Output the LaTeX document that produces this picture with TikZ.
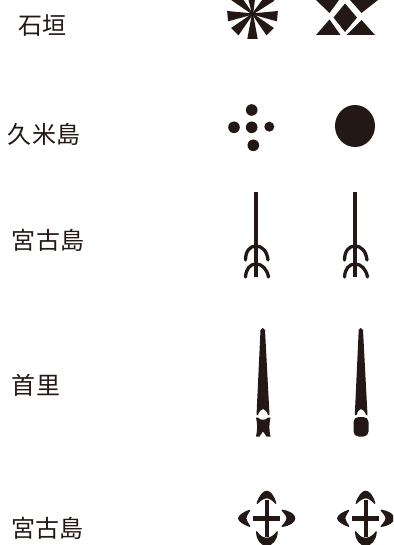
\documentclass[tikz,border=0pt]{standalone}
\usepackage{fontspec}
\newfontfamily\cjk{Noto Sans CJK JP}
\definecolor{ink}{HTML}{231815}
\tikzset{
  lab/.style={font=\cjk\fontsize{24}{24}\selectfont,text=ink,inner sep=0pt,anchor=center},
  stemline/.style={draw=ink,line width=3.3pt},
  arcline/.style={draw=ink,line width=3.3pt,line cap=round},
  crossline/.style={draw=ink,line width=4.4pt},
  crescent/.style={fill=ink,draw=ink,line width=1.2pt,line join=round},
  pic arrow/.pic={
    \draw[stemline] (0,192)--(0,277);
    \draw[arcline] (-10.5,260) .. controls (-10.5,251) and (-6,246) .. (0,246) .. controls (6,246) and (11,251) .. (12,260);
    \draw[arcline] (-10.5,277) .. controls (-10,269) and (-6,264) .. (0,264) .. controls (6,264) and (11,269) .. (12.5,277);
  },
  pic clover/.pic={
    \draw[crossline] (-13.5,0)--(13.5,0);
    \draw[crossline] (0,-18)--(0,19);
    \path[crescent] (-9.5,-15) .. controls (-7,-23) and (-3,-27) .. (0,-27) .. controls (3,-27) and (7,-23) .. (9,-15) .. controls (5,-19.5) and (2,-20.5) .. (0,-20.5) .. controls (-2,-20.5) and (-5,-19.5) .. (-9.5,-15) -- cycle;
    \path[crescent] (-10,13.5) .. controls (-10,22) and (-5,27) .. (0,27) .. controls (5,27) and (10,22) .. (10.5,13.5) .. controls (7,18.5) and (3,20) .. (0,20) .. controls (-3,20) and (-7,18.5) .. (-10,13.5) -- cycle;
    \path[crescent] (-17,-8) .. controls (-23,-6) and (-28,-2.5) .. (-28,0) .. controls (-28,2.5) and (-23,6) .. (-17,8) .. controls (-19.5,4) and (-21,1.5) .. (-21,0) .. controls (-21,-1.5) and (-19.5,-4) .. (-17,-8) -- cycle;
    \path[crescent] (15.5,-8) .. controls (23,-7) and (28,-3.5) .. (28,0) .. controls (28,3.5) and (23,7) .. (15.5,8) .. controls (19,4) and (20.5,1.5) .. (20.5,0) .. controls (20.5,-1.5) and (19,-4) .. (15.5,-8) -- cycle;
  }
}
\begin{document}
\begin{tikzpicture}[x=1pt,y=-1pt]
\useasboundingbox (0,0) rectangle (393,545);
\clip (0,0) rectangle (393,545);
% labels
\node[lab] (l1) at (42,26) {石垣};
\node[lab] (l2) at (44,134) {久米島};
\node[lab] (l3) at (48,240) {宮古島};
\node[lab] (l4) at (36,385) {首里};
\node[lab] (l5) at (47,528) {宮古島};
% star
\begin{scope}[shift={(252.5,14)}]
\foreach \a in {-90,-45,-5,43,93,135,185,225}{
  \fill[ink,rotate=\a] (0,-0.6) -- (25,-5.2) -- (25,5.2) -- (0,0.6) -- cycle;
}
\end{scope}
% diamonds
\fill[ink] (345,3.5) -- (357,17.5) -- (345,32) -- (333.5,17.5) -- cycle;
\fill[ink] (316,35) -- (340.5,35) -- (329.5,19.5) -- cycle;
\fill[ink] (346.5,35) -- (375,35) -- (361.5,20) -- cycle;
\fill[ink] (316,0) -- (339,0) -- (329.5,13) -- cycle;
\fill[ink] (350,0) -- (378,0) -- (361.5,13) -- cycle;
% dots
\fill[ink] (251.7,110) circle (5.8);
\fill[ink] (234,127.3) circle (5.8);
\fill[ink] (251.7,127.3) circle (5.8);
\fill[ink] (269.3,126.7) circle (5);
\fill[ink] (253.3,145.3) circle (5.8);
\fill[ink] (355,126) ellipse (20 and 21);
% arrows with fork
\pic at (256,0) {pic arrow};
\pic at (355,0) {pic arrow};
% Shuri left
\fill[ink] (262.7,328) -- (260.5,330) -- (256.5,415) -- (258,415) .. controls (259,411.5) and (261,409.5) .. (263,409) .. controls (265,409.5) and (267,411.5) .. (268,415) -- (269.5,415) -- (265,330) -- cycle;
\fill[ink] (256,417.5) -- (258,417.5) .. controls (260,420.5) and (266,420.5) .. (268,417.5) -- (270.5,417.5) .. controls (269,424) and (269,430) .. (270.5,436.5) -- (266.5,436.5) -- (263,431.5) -- (259.5,436.5) -- (256,436.5) .. controls (257.5,430) and (257.5,424) .. (256,417.5) -- cycle;
% Shuri right
\fill[ink] (360.7,328) -- (358.7,330) -- (354.8,415) -- (356.5,415) .. controls (357.5,411.5) and (359,409.5) .. (361,409) .. controls (363,409.5) and (365,411.5) .. (366,415) -- (367.5,415) -- (363,330) -- cycle;
\fill[ink,rounded corners=5pt] (353.5,417) rectangle (368.5,436.5);
% clovers
\pic at (266.7,518.3) {pic clover};
\pic at (365.7,518.3) {pic clover};
\end{tikzpicture}
\end{document}
